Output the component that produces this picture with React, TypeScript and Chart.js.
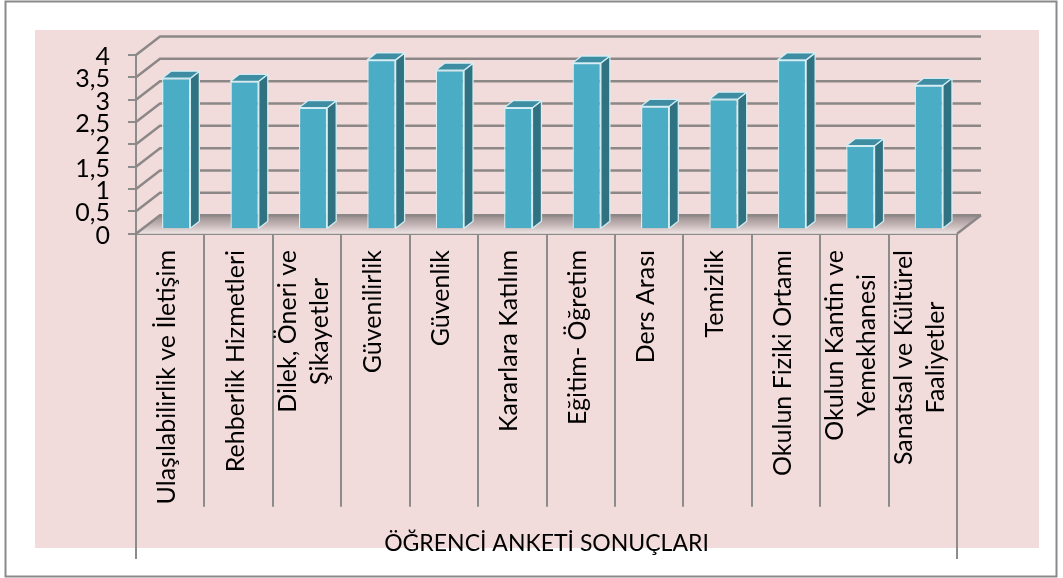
import React, { useEffect, useRef } from "react";
import { Chart, registerables } from "chart.js";

Chart.register(...registerables);

// ---------- data ----------
const categories: (string | string[])[] = [
  "Ulaşılabilirlik ve İletişim",
  "Rehberlik Hizmetleri",
  ["Dilek, Öneri ve", "Şikayetler"],
  "Güvenilirlik",
  "Güvenlik",
  "Kararlara Katılım",
  "Eğitim- Öğretim",
  "Ders Arası",
  "Temizlik",
  "Okulun Fiziki Ortamı",
  ["Okulun Kantin ve", "Yemekhanesi"],
  ["Sanatsal ve Kültürel", "Faaliyetler"],
];
const scores = [3.38, 3.31, 2.72, 3.79, 3.56, 2.72, 3.72, 2.75, 2.91, 3.79, 1.87, 3.22];
const yTickLabels = ["0", "0,5", "1", "1,5", "2", "2,5", "3", "3,5", "4"];
const axisTitle = "ÖĞRENCİ ANKETİ SONUÇLARI";

// ---------- layout / style ----------
const W = 1063;
const H = 578;
const PLOT_LEFT = 136;
const PLOT_RIGHT = 957;
const PLOT_TOP = 55;
const PLOT_BOTTOM = 233.7;
const DX = 24; // depth offset of back wall
const DY = -18.5;
const TX = 6; // bar front-face depth shift
const TY = -4.5;
const BDX = 9; // bar depth
const BDY = -7;
const DIVIDER_LEN = 273;
const AXIS_EXT_END = 559;
const LABEL_TOP = 250;
const LABEL_DX = -3;
const LABEL_LINE = 32;
const FONT = "Lato";
const GRID = "#8c8888";
const FRONT = "#4BACC6";
const SIDE = "#317282";
const TOP = "#3E8DA2";
const EDGE = "rgba(214,240,246,0.95)";

const threeD = {
  id: "threeD",
  beforeDraw(chart: any) {
    const ctx = chart.ctx;
    ctx.save();
    ctx.fillStyle = "#ffffff";
    ctx.fillRect(0, 0, W, H);
    ctx.fillStyle = "#F2DCDB";
    ctx.fillRect(35, 30, 1004, 518);
    ctx.strokeStyle = "#8a8a8a";
    ctx.lineWidth = 2;
    ctx.strokeRect(5.5, 1.5, 1051, 575);
    ctx.restore();
  },
  beforeDatasetsDraw(chart: any) {
    const { ctx, chartArea: a, scales } = chart;
    const y = scales.y;
    const y0 = y.getPixelForValue(0);
    ctx.save();
    // floor
    const g = ctx.createLinearGradient(0, y0 + DY, 0, y0);
    g.addColorStop(0, "#978a8a");
    g.addColorStop(0.6, "#cbbdbd");
    g.addColorStop(1, "#f0e4e4");
    ctx.beginPath();
    ctx.moveTo(a.left, y0);
    ctx.lineTo(a.right, y0);
    ctx.lineTo(a.right + DX, y0 + DY);
    ctx.lineTo(a.left + DX, y0 + DY);
    ctx.closePath();
    ctx.fillStyle = g;
    ctx.fill();
    // wall gridlines
    ctx.strokeStyle = GRID;
    ctx.lineWidth = 2.5;
    ctx.lineCap = "butt";
    y.ticks.forEach((t: any) => {
      const py = y.getPixelForValue(t.value);
      ctx.beginPath();
      ctx.moveTo(a.left, py);
      ctx.lineTo(a.left + DX, py + DY);
      ctx.lineTo(a.right + DX, py + DY);
      ctx.stroke();
    });
    ctx.beginPath();
    ctx.moveTo(a.right, y0);
    ctx.lineTo(a.right + DX, y0 + DY);
    ctx.stroke();
    // extended outer axis lines
    ctx.lineWidth = 2;
    ctx.strokeStyle = "#8c8c8c";
    ctx.beginPath();
    ctx.moveTo(a.left, y0 + DIVIDER_LEN - 1);
    ctx.lineTo(a.left, AXIS_EXT_END);
    ctx.moveTo(a.right, y0 + DIVIDER_LEN - 1);
    ctx.lineTo(a.right, AXIS_EXT_END);
    ctx.stroke();
    ctx.restore();
    ctx.save();
    ctx.translate(TX, TY);
  },
  afterDatasetsDraw(chart: any) {
    const ctx = chart.ctx;
    const meta = chart.getDatasetMeta(0);
    meta.data.forEach((bar: any) => {
      const { x, y, base, width } = bar.getProps(["x", "y", "base", "width"], true);
      const L = x - width / 2;
      const R = x + width / 2;
      ctx.lineWidth = 1.3;
      ctx.strokeStyle = EDGE;
      ctx.lineJoin = "round";
      // side face
      ctx.beginPath();
      ctx.moveTo(R, y);
      ctx.lineTo(R + BDX, y + BDY);
      ctx.lineTo(R + BDX, base + BDY);
      ctx.lineTo(R, base);
      ctx.closePath();
      ctx.fillStyle = SIDE;
      ctx.fill();
      ctx.stroke();
      // top face
      ctx.beginPath();
      ctx.moveTo(L, y);
      ctx.lineTo(R, y);
      ctx.lineTo(R + BDX, y + BDY);
      ctx.lineTo(L + BDX, y + BDY);
      ctx.closePath();
      ctx.fillStyle = TOP;
      ctx.fill();
      ctx.stroke();
    });
    ctx.restore();
  },
  afterDraw(chart: any) {
    const { ctx, scales } = chart;
    const x = scales.x;
    ctx.save();
    ctx.font = `25px ${FONT}`;
    ctx.fillStyle = "#000";
    ctx.textBaseline = "middle";
    ctx.textAlign = "center";
    categories.forEach((lab, i) => {
      const lines = Array.isArray(lab) ? lab : [lab];
      const cx = x.getPixelForValue(i) + LABEL_DX;
      const maxW = Math.max(...lines.map((l) => ctx.measureText(l).width));
      const cy = LABEL_TOP + maxW / 2;
      ctx.save();
      ctx.translate(cx, cy);
      ctx.rotate(-Math.PI / 2);
      lines.forEach((l, j) => {
        ctx.fillText(l, 0, (j - (lines.length - 1) / 2) * LABEL_LINE);
      });
      ctx.restore();
    });
    ctx.restore();
  },
};

export default function App() {
  const ref = useRef<HTMLCanvasElement>(null);
  useEffect(() => {
    if (!ref.current) return;
    const chart = new Chart(ref.current, {
      type: "bar",
      data: {
        labels: categories as any,
        datasets: [
          {
            data: scores,
            backgroundColor: FRONT,
            borderColor: EDGE,
            borderWidth: 1.3,
            barPercentage: 0.414,
            categoryPercentage: 1,
          },
        ],
      },
      options: {
        responsive: false,
        animation: false,
        events: [],
        layout: { padding: { top: PLOT_TOP, right: W - PLOT_RIGHT, left: 0, bottom: 0 } },
        plugins: { legend: { display: false }, tooltip: { enabled: false } },
        scales: {
          x: {
            grid: {
              display: true,
              drawOnChartArea: false,
              drawTicks: true,
              tickLength: DIVIDER_LEN,
              color: "#8c8c8c",
              lineWidth: 2,
              offset: true,
            },
            border: { display: true, color: "#8c8c8c", width: 2 },
            ticks: { display: false, autoSkip: false },
            title: {
              display: true,
              text: axisTitle,
              color: "#000",
              font: { family: FONT, size: 23 },
              padding: { top: 0, bottom: 21 },
            },
            afterFit: (s: any) => {
              s.height = H - PLOT_BOTTOM;
            },
          },
          y: {
            min: 0,
            max: 4,
            ticks: {
              stepSize: 0.5,
              autoSkip: false,
              color: "#000",
              font: { family: FONT, size: 25 },
              padding: 18,
              labelOffset: 2,
              callback: (_v: any, i: number) => yTickLabels[i],
            },
            grid: {
              drawOnChartArea: false,
              drawTicks: true,
              tickLength: 8,
              color: "#8c8c8c",
              lineWidth: 2,
            },
            border: { display: true, color: "#8c8c8c", width: 2 },
            afterFit: (s: any) => {
              s.width = PLOT_LEFT;
            },
          },
        },
      },
      plugins: [threeD],
    });
    return () => chart.destroy();
  }, []);
  return (
    <div style={{ position: "fixed", left: 0, top: 0, width: W, height: H }}>
      <canvas ref={ref} width={W} height={H} style={{ display: "block" }} />
    </div>
  );
}
